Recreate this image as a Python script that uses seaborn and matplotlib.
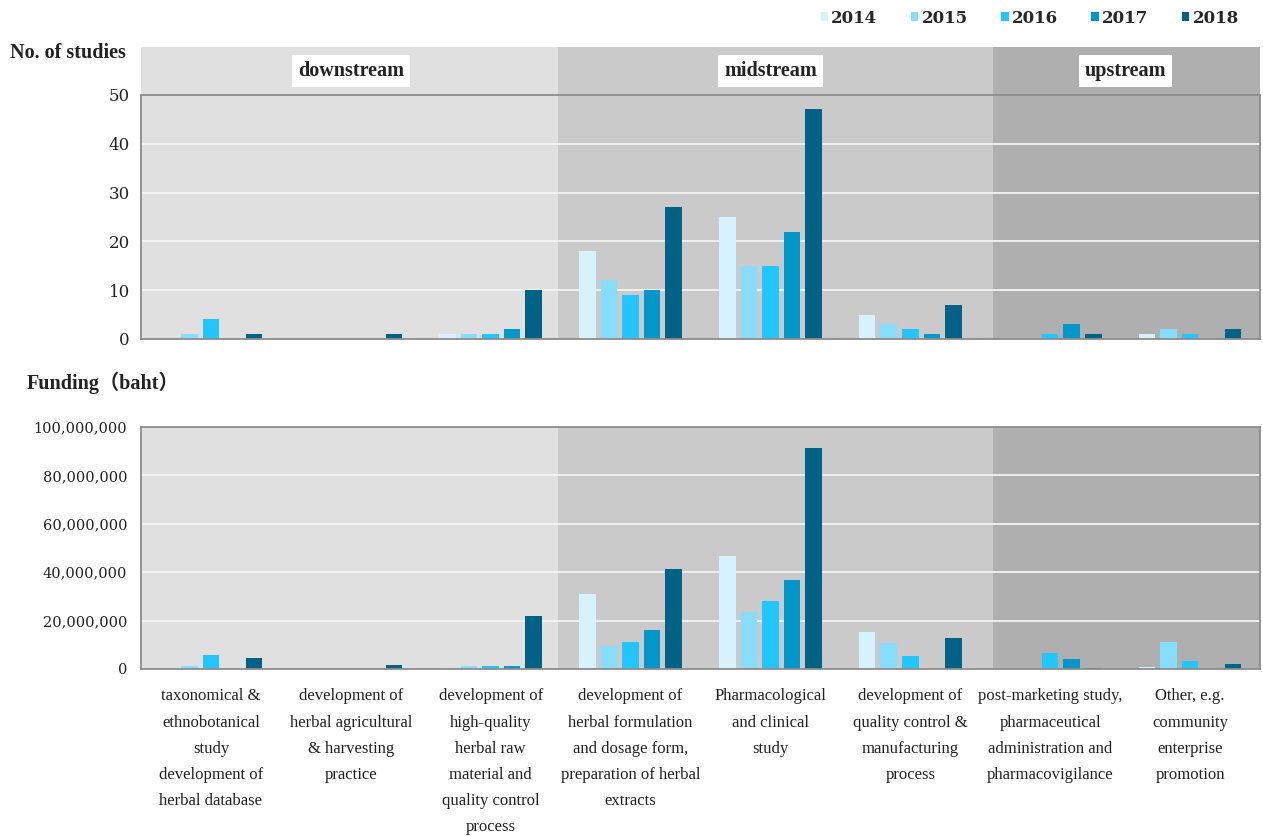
import pandas as pd
import matplotlib.pyplot as plt
import seaborn as sns
from matplotlib.patches import Patch
from matplotlib.ticker import FuncFormatter

# Données
categories = [
    "taxonomical &\nethnobotanical\nstudy\ndevelopment of\nherbal database",
    "development of\nherbal agricultural\n& harvesting\npractice",
    "development of\nhigh-quality\nherbal raw\nmaterial and\nquality control\nprocess",
    "development of\nherbal formulation\nand dosage form,\npreparation of herbal\nextracts",
    "Pharmacological\nand clinical\nstudy",
    "development of\nquality control &\nmanufacturing\nprocess",
    "post-marketing study,\npharmaceutical\nadministration and\npharmacovigilance",
    "Other, e.g.\ncommunity\nenterprise\npromotion",
]
years = ["2014", "2015", "2016", "2017", "2018"]

studies_2014 = [0, 0, 1, 18, 25, 5, 0, 1]
studies_2015 = [1, 0, 1, 12, 15, 3, 0, 2]
studies_2016 = [4, 0, 1, 9, 15, 2, 1, 1]
studies_2017 = [0, 0, 2, 10, 22, 1, 3, 0]
studies_2018 = [1, 1, 10, 27, 47, 7, 1, 2]

funding_2014 = [0, 0, 0.5e6, 31.0e6, 46.7e6, 15.3e6, 0, 0.7e6]
funding_2015 = [1.2e6, 0, 1.2e6, 9.6e6, 23.4e6, 10.6e6, 0, 11.2e6]
funding_2016 = [5.8e6, 0, 1.2e6, 11.2e6, 28.2e6, 5.2e6, 6.6e6, 3.2e6]
funding_2017 = [0, 0, 1.2e6, 16.1e6, 36.8e6, 0, 4.1e6, 0]
funding_2018 = [4.5e6, 1.7e6, 22.0e6, 41.3e6, 91.3e6, 12.7e6, 0.3e6, 2.2e6]

stages = ["downstream", "midstream", "upstream"]

couleurs = ["#d5f2fd", "#86defe", "#22c6fe", "#0097cb", "#006385"]
fonds = ["#e0e0e0", "#cacaca", "#afafaf"]
limites = [(-0.5, 2.48), (2.48, 5.59), (5.59, 7.5)]
centres_stages = [1.0, 4.0, 6.54]


def en_long(series):
    rows = []
    for annee, vals in zip(years, series):
        for cat, v in zip(categories, vals):
            rows.append({"categorie": cat, "annee": annee, "valeur": v})
    return pd.DataFrame(rows)


df_studies = en_long([studies_2014, studies_2015, studies_2016, studies_2017, studies_2018])
df_funding = en_long([funding_2014, funding_2015, funding_2016, funding_2017, funding_2018])

sns.set_style("white")
plt.rcParams['font.family'] = ['Liberation Serif', 'Noto Sans CJK JP', 'DejaVu Sans']

fig = plt.figure(figsize=(12.63, 8.36), dpi=100)
ax1 = fig.add_axes([0.1116, 0.5945, 0.886, 0.3493])
ax2 = fig.add_axes([0.1116, 0.1998, 0.886, 0.2894])

bord = "#8c8c8c"

for ax, df in [(ax1, df_studies), (ax2, df_funding)]:
    for (x0, x1), fond in zip(limites, fonds):
        ax.axvspan(x0, x1, color=fond, zorder=0, lw=0)
    sns.barplot(data=df, x="categorie", y="valeur", hue="annee", order=categories,
                hue_order=years, palette=couleurs, saturation=1, width=0.77, gap=0.23,
                ax=ax, legend=False, linewidth=0, zorder=2)
    ax.set_xlim(-0.5, 7.5)
    ax.set_xlabel("")
    ax.set_ylabel("")
    ax.tick_params(axis="both", length=0)
    for s in ax.spines.values():
        s.set_color(bord)
        s.set_linewidth(1.3)

# Panneau du haut : nombre d'études
ax1.set_ylim(0, 59.8)
ax1.set_yticks(range(0, 51, 10))
ax1.set_yticklabels([str(v) for v in range(0, 51, 10)], family="DejaVu Serif",
                    fontsize=12, color="#222222")
ax1.tick_params(axis="y", pad=8)
for v in range(10, 50, 10):
    ax1.axhline(v, color="#f4f4f4", lw=1.3, zorder=1)
ax1.spines["top"].set_visible(False)
ax1.spines["left"].set_bounds(0, 50)
ax1.spines["right"].set_bounds(0, 50)
ax1.axhline(50, color=bord, lw=1.3, zorder=3)
ax1.set_xticklabels([])

for nom, xc in zip(stages, centres_stages):
    ax1.text(xc, 54.9, nom, ha="center", va="center", fontsize=14.5,
             fontweight="bold", color="#222222",
             bbox=dict(boxstyle="square,pad=0.3", fc="white", ec="none"))

# Panneau du bas : financement
ax2.set_ylim(0, 100e6)
ax2.set_yticks([v * 1e6 for v in range(0, 101, 20)])
ax2.yaxis.set_major_formatter(FuncFormatter(lambda v, p: f"{int(v):,}"))
for lab in ax2.get_yticklabels():
    lab.set_family("DejaVu Serif")
ax2.tick_params(axis="y", pad=10, labelsize=10.5, labelcolor="#222222")
for v in range(20, 100, 20):
    ax2.axhline(v * 1e6, color="#f4f4f4", lw=1.3, zorder=1)
ax2.set_xticks(range(len(categories)))
ax2.set_xticklabels(categories, fontsize=12, color="#222222", linespacing=1.85, va="top")
ax2.tick_params(axis="x", pad=14)

fig.text(10 / 1263, 1 - 53 / 836, "No. of studies", ha="left", va="center",
         fontsize=14.5, fontweight="bold", color="#222222")
fig.text(27 / 1263, 1 - 383 / 836, "Funding（baht）", ha="left", va="center",
         fontsize=14.5, fontweight="bold", color="#222222")

poignees = [Patch(facecolor=c, edgecolor="none") for c in couleurs]
fig.legend(poignees, years, loc="center right", bbox_to_anchor=(0.9875, 0.978),
           ncol=5, frameon=False, borderpad=0, handlelength=0.45, handleheight=0.45,
           handletextpad=0.2, columnspacing=2.0,
           prop={"family": "DejaVu Serif", "weight": "bold", "size": 12})

plt.savefig("out.png", dpi=100)
